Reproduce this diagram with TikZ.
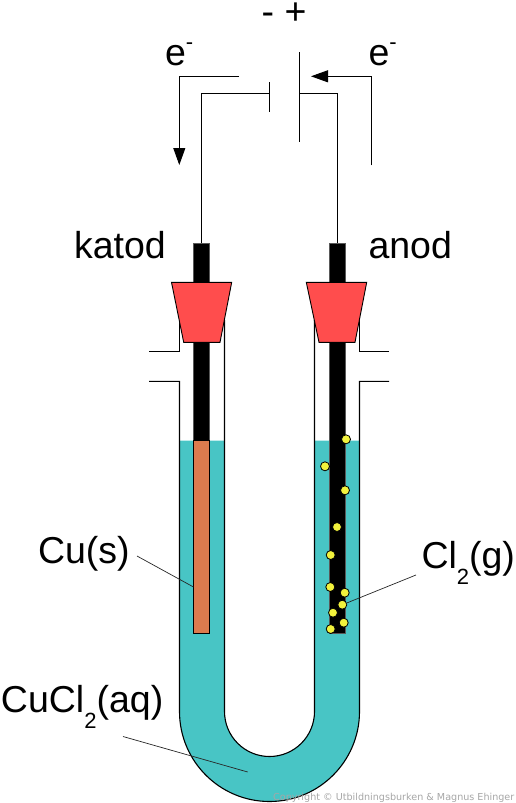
\documentclass[tikz,border=0pt]{standalone}
\usepackage{fontspec}
\setmainfont{Liberation Sans}
\newfontfamily\copyfont{DejaVu Sans}
\usetikzlibrary{arrows.meta}
\definecolor{liquid}{HTML}{48C5C5}
\definecolor{copper}{HTML}{DC7B4E}
\definecolor{stopper}{HTML}{FF4D4D}
\definecolor{bubble}{HTML}{F2F23C}
\tikzset{
  x=1pt,y=-1pt,
  wire/.style={line width=0.9pt,black},
  glass/.style={line width=1.1pt,black},
  leader/.style={line width=0.7pt,black!85},
  flow/.style={line width=0.9pt,black,-{Triangle[length=17pt,width=12pt]}},
  lab/.style={font=\fontsize{37.5}{40}\selectfont,anchor=base west,inner sep=0pt,outer sep=0pt},
  bub/.style={circle,draw=black,fill=bubble,line width=0.8pt,minimum size=9pt,inner sep=0pt},
  stopperbox/.style={draw=black,fill=stopper,line width=0.9pt},
  electrode/.style={fill=black,draw=black!65,line width=0.5pt},
}
\newcommand{\subs}[1]{\raisebox{-16pt}{\fontsize{22}{24}\selectfont #1}}
\newcommand{\sups}[1]{\raisebox{16pt}{\fontsize{22}{24}\selectfont #1}}
\begin{document}
\begin{tikzpicture}
\useasboundingbox (0,0) rectangle (515,803);
% liquid
\fill[liquid] (179.5,440.5) -- (224.5,440.5) -- (224.5,711.5) arc[start angle=180,end angle=0,radius=45] -- (314.5,440.5) -- (359.5,440.5) -- (359.5,711.5) arc[start angle=0,end angle=180,radius=90] -- cycle;
% glass
\draw[glass] (149,351.3) -- (179.5,351.3) -- (179.5,320);
\draw[glass] (149,381.3) -- (179.5,381.3) -- (179.5,711.5) arc[start angle=180,end angle=0,radius=90] -- (359.5,381.3) -- (389,381.3);
\draw[glass] (389,351.3) -- (359.5,351.3) -- (359.5,320);
\draw[glass] (224.5,320) -- (224.5,711.5) arc[start angle=180,end angle=0,radius=45] -- (314.5,320);
% wires and cell
\coordinate (lwire) at (201.7,243);
\coordinate (rwire) at (337.3,243);
\coordinate (neg) at (269.3,93.5);
\coordinate (pos) at (299.3,93.5);
\draw[wire] (lwire) |- (neg);
\draw[wire] (rwire) |- (pos);
\draw[wire] (269.3,82) -- (269.3,111.5);
\draw[wire] (299.3,52) -- (299.3,141.7);
% electron arrows
\coordinate (a1) at (239,76.3);
\coordinate (a2) at (179.3,165);
\coordinate (b1) at (371.3,165.3);
\coordinate (b2) at (311,76.3);
\draw[flow] (a1) -| (a2);
\draw[flow] (b1) |- (b2);
% electrodes
\draw[electrode] (193.2,243) rectangle (209.5,441);
\draw[electrode] (329,243) rectangle (345.3,633);
\draw[line width=0.9pt,black,fill=copper] (193.5,440.5) rectangle (209.5,633);
% stoppers
\draw[stopperbox] (171.5,282.3) -- (231.7,282.3) -- (220,342.3) -- (183.7,342.3) -- cycle;
\draw[stopperbox] (306.3,282.3) -- (366.7,282.3) -- (355,342.3) -- (319,342.3) -- cycle;
% leaders
\coordinate (cuA) at (137,556);
\coordinate (cuB) at (193.5,587);
\draw[leader] (cuA) -- (cuB);
\coordinate (clA) at (416,575);
\coordinate (clB) at (346.7,603);
\draw[leader] (clA) -- (clB);
\coordinate (aqA) at (123,736.5);
\coordinate (aqB) at (247.7,772);
\draw[leader] (aqA) -- (aqB);
% bubbles
\foreach \n/\x/\y in {1/346/439.3,2/325/466.3,3/345/490.3,4/337/527,5/330.7/555,6/330.3/587,7/344.7/592.7,8/342.3/604.7,9/333/612.7,10/343.7/622.7,11/330.7/629}
  \node[bub] (b\n) at (\x,\y) {};
% labels
\node[lab] (minus) at (261.5,24) {-};
\node[lab] (plus) at (284.5,24) {+};
\node[lab] (el) at (165,65) {e\sups{-}};
\node[lab] (er) at (368.5,65) {e\sups{-}};
\node[lab] (katod) at (74,258.5) {katod};
\node[lab] (anod) at (368.5,258.5) {anod};
\node[lab] (cus) at (38,563.5) {Cu(s)};
\node[lab] (clg) at (421.5,568.5) {Cl\subs{2}(g)};
\node[lab] (aq) at (1,712.7) {CuCl\subs{2}(aq)};
\node[font=\copyfont\fontsize{9.6}{11}\selectfont,text=black!35,anchor=base east,inner sep=0pt] (copy) at (514.5,800) {Copyright © Utbildningsburken \& Magnus Ehinger};
\end{tikzpicture}
\end{document}
